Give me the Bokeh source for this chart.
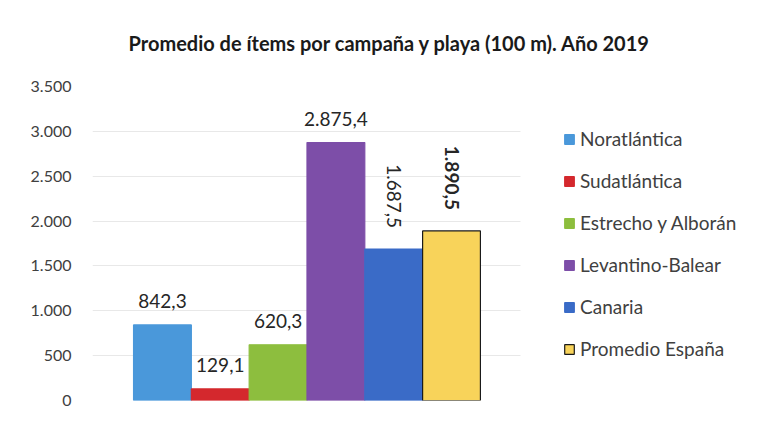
import math
from bokeh.plotting import figure
from bokeh.models import ColumnDataSource, Range1d, FixedTicker, Legend, LegendItem
from bokeh.embed import file_html
from bokeh.resources import INLINE

# ---- data ----
regions = ["Noratlántica", "Sudatlántica", "Estrecho y Alborán",
           "Levantino-Balear", "Canaria", "Promedio España"]
values = [842.3, 129.1, 620.3, 2875.4, 1687.5, 1890.5]
colors = ["#4A98DA", "#D4282D", "#8DBE3E", "#7D4EA8", "#3A6BC7", "#F8D35A"]
y_ticks = [0, 500, 1000, 1500, 2000, 2500, 3000, 3500]
y_tick_labels = ["0", "500", "1.000", "1.500", "2.000", "2.500", "3.000", "3.500"]
title_text = "Promedio de ítems por campaña y playa (100 m). Año 2019"


def fmt_es(v):
    s = f"{v:,.1f}"
    return s.replace(",", "X").replace(".", ",").replace("X", ".")


n = len(regions)
xs = list(range(n))
line_colors = [c for c in colors[:-1]] + ["#1a1a1a"]
src = ColumnDataSource(dict(x=xs, top=values, region=regions, color=colors,
                            line=line_colors))

rotated = [i >= n - 2 for i in range(n)]
lab = ColumnDataSource(dict(
    x=xs, y=values,
    text=[fmt_es(v) for v in values],
    angle=[-math.pi / 2 if r else 0.0 for r in rotated],
    align=["right" if r else "center" for r in rotated],
    yoff=[-21 if r else -24 for r in rotated],
    style=["bold" if i == n - 1 else "normal" for i in range(n)],
))

FONT = "Lato"
X0, X1_PLOT, X1_FRAME = -1.21, 6.19, 10.31

p = figure(width=758, height=427,
           x_range=Range1d(X0, X1_FRAME), y_range=Range1d(0, 3500),
           output_backend="svg", toolbar_location=None,
           min_border_left=92, min_border_right=0,
           min_border_top=86, min_border_bottom=27)
p.outline_line_color = None
p.background_fill_color = "white"
p.border_fill_color = "white"

# title
p.title.text = title_text
p.title.align = "left"
p.title.offset = 36
p.title.vertical_align = "top"
p.title.standoff = 60
p.title.text_font = FONT
p.title.text_font_size = "20px"
p.title.text_font_style = "bold"
p.title.text_color = "#1a1a1a"

r = p.vbar(x="x", top="top", width=1.0, source=src,
           fill_color="color", line_color="line", line_width=1.2)

p.text(x="x", y="y", text="text", angle="angle", text_align="align",
       text_baseline="middle", y_offset="yoff", text_font_style="style",
       source=lab, text_font={"value": FONT}, text_font_size={"value": "19px"},
       text_color="#262626")

# axes
p.xaxis.visible = False
p.xgrid.visible = False
p.yaxis.ticker = FixedTicker(ticks=y_ticks)
p.yaxis.major_label_overrides = {t: l for t, l in zip(y_ticks, y_tick_labels)}
p.yaxis.axis_line_color = None
p.yaxis.major_tick_line_color = None
p.yaxis.major_tick_out = 0
p.yaxis.major_tick_in = 0
p.yaxis.minor_tick_line_color = None
p.yaxis.major_label_standoff = 21
p.yaxis.major_label_text_font = FONT
p.yaxis.major_label_text_font_size = "16px"
p.yaxis.major_label_text_color = "#404040"
p.ygrid.ticker = FixedTicker(ticks=y_ticks)
p.ygrid.grid_line_color = "#e8e8e8"
try:
    p.ygrid.cross_bounds = (X0, X1_PLOT)
except Exception:
    p.ygrid.grid_line_color = "#f2f2f2"

legend = Legend(items=[LegendItem(label=regions[i], renderers=[r], index=i)
                       for i in range(n)],
                location=(471, 40))
legend.label_text_font = FONT
legend.label_text_font_size = "19px"
legend.label_text_color = "#404040"
legend.glyph_width = 12
legend.glyph_height = 12
legend.label_height = 22
legend.spacing = 19
legend.padding = 5
legend.label_standoff = 5
legend.border_line_color = None
legend.background_fill_alpha = 0
p.add_layout(legend)

open("out.html", "w").write(file_html(p, INLINE))
